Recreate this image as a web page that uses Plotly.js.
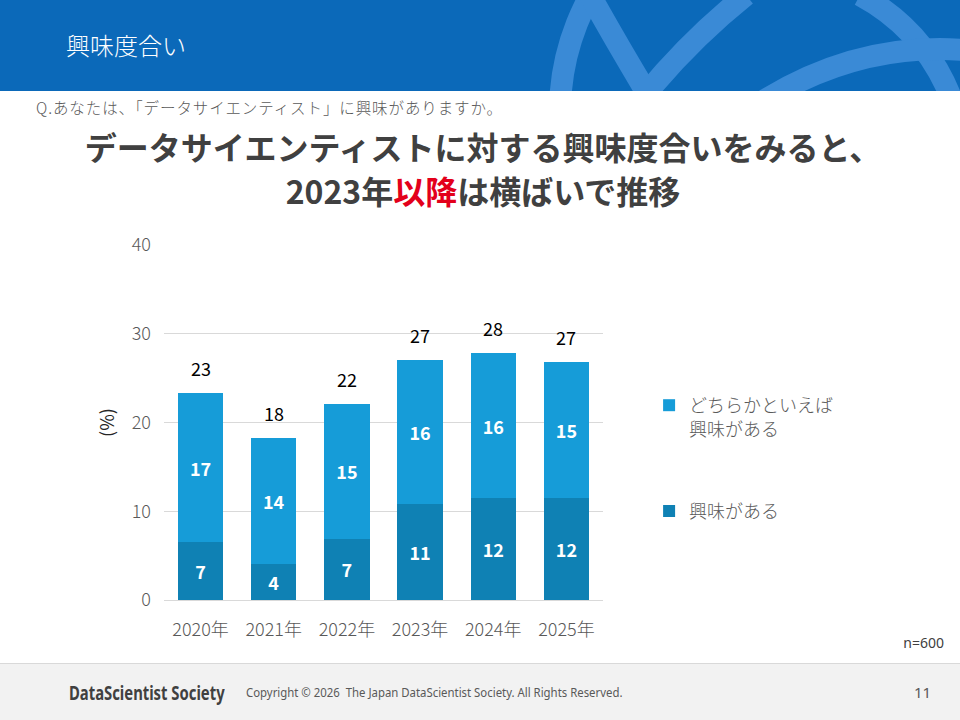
<!DOCTYPE html>
<html>
<head>
<meta charset="utf-8">
<script src="https://cdn.plot.ly/plotly-3.0.1.min.js"></script>
<style>
  html, body { margin:0; padding:0; width:960px; height:720px; overflow:hidden; background:#fff; }
  body { position:relative; font-family:"Noto Sans CJK JP","Noto Sans",sans-serif; }
  #header { position:absolute; left:0; top:0; width:960px; height:91px; background:#0b69b9; overflow:hidden; }
  #header svg { position:absolute; left:0; top:0; }
  #header .ttl { position:absolute; left:66px; top:28px; color:#fff; font-size:24px; line-height:34px; font-weight:300; }
  #question { position:absolute; left:36px; top:96px; font-size:15.5px; letter-spacing:0.9px; color:#595959; line-height:22px; font-weight:300; }
  #headline { position:absolute; left:8px; width:950px; top:124px; text-align:center; font-weight:700; font-size:32px; line-height:44px; color:#404040; }
  #headline .red { color:#e3001b; }
  #chart { position:absolute; left:0; top:0; width:960px; height:720px; }
  #nnote { position:absolute; right:16px; top:633px; font-size:14px; color:#404040; font-family:"Noto Sans","Noto Sans CJK JP",sans-serif; }
  #footer { position:absolute; left:0; top:663px; width:960px; height:57px; background:#f2f2f2; border-top:1px solid #d9d9d9; }
  #footer .logo { position:absolute; left:69px; top:16px; font-family:"Noto Sans","DejaVu Sans",sans-serif; font-weight:700; font-size:19px; color:#404040; transform:scaleX(0.78); transform-origin:left center; white-space:nowrap; }
  #footer .copy { position:absolute; left:246px; top:20px; font-family:"Noto Sans","DejaVu Sans",sans-serif; font-size:12.5px; color:#595959; transform:scaleX(0.91); transform-origin:left center; white-space:nowrap; }
  #footer .page { position:absolute; left:914px; top:18px; font-family:"Noto Sans",sans-serif; font-size:15px; color:#595959; }
</style>
</head>
<body>
<div id="header">
  <svg width="960" height="91" viewBox="0 0 960 91">
    <g fill="none" stroke="#3a8ad6" stroke-width="22" stroke-linecap="butt">
      <circle cx="800" cy="112" r="240"/>
      <path d="M 590 -5 Q 615 40 648 95"/>
      <path d="M 746 -5 Q 690 40 645 95"/>
      <path d="M 860 -5 Q 925 30 952 100"/>
      <path d="M 765 100 Q 860 42 965 50"/>
    </g>
  </svg>
  <div class="ttl">興味度合い</div>
</div>
<div id="question">Q.あなたは、「データサイエンティスト」に興味がありますか。</div>
<div id="headline">データサイエンティストに対する興味度合いをみると、<br>2023年<span class="red">以降</span>は横ばいで推移</div>
<div id="chart"></div>
<div id="nnote">n=600</div>
<div id="footer">
  <div class="logo">DataScientist Society</div>
  <div class="copy">Copyright © 2026&nbsp; The Japan DataScientist Society. All Rights Reserved.</div>
  <div class="page">11</div>
</div>
<script>
// ---- data ----
const years = ['2020年', '2021年', '2022年', '2023年', '2024年', '2025年'];
const interested = [6.5, 4.1, 6.9, 10.8, 11.5, 11.5];        // 興味がある
const somewhat = [16.8, 14.1, 15.2, 16.2, 16.3, 15.3];        // どちらかといえば興味がある
const interestedLabels = ['7', '4', '7', '11', '12', '12'];
const somewhatLabels = ['17', '14', '15', '16', '16', '15'];
const totalLabels = ['23', '18', '22', '27', '28', '27'];
const seriesNames = ['興味がある', 'どちらかといえば<br>興味がある'];
const yTicks = [0, 10, 20, 30, 40];

const totals = interested.map((v, i) => v + somewhat[i]);
const FONT = '"Noto Sans CJK JP", "Noto Sans", sans-serif';

const traces = [
  {
    type: 'bar', x: years, y: interested, name: seriesNames[0],
    marker: { color: '#0f81b4', line: { width: 0 } },
    text: interestedLabels, textposition: 'inside', insidetextanchor: 'middle',
    textangle: 0, constraintext: 'none',
    textfont: { color: '#ffffff', size: 18, family: FONT, weight: 700 },
    legendgroup: 'g2', legendrank: 2, hoverinfo: 'none'
  },
  {
    type: 'bar', x: years, y: somewhat, name: seriesNames[1],
    marker: { color: '#169cd8', line: { width: 0 } },
    text: somewhatLabels, textposition: 'inside', insidetextanchor: 'middle',
    textangle: 0, constraintext: 'none',
    textfont: { color: '#ffffff', size: 18, family: FONT, weight: 700 },
    legendgroup: 'g1', legendrank: 1, hoverinfo: 'none'
  }
];

const annotations = years.map((yr, i) => ({
  x: yr, y: totals[i], xref: 'x', yref: 'y', text: totalLabels[i],
  showarrow: false, yshift: 25,
  font: { family: FONT, size: 18, color: '#000000' }
}));

const layout = {
  width: 960, height: 720,
  paper_bgcolor: 'rgba(0,0,0,0)', plot_bgcolor: 'rgba(0,0,0,0)',
  margin: { l: 164, r: 357, t: 245, b: 120, pad: 0 },
  barmode: 'stack', bargap: 0.38,
  font: { family: FONT, color: '#595959' },
  xaxis: {
    type: 'category', showgrid: false, zeroline: false, showline: false,
    ticks: '', ticklabelstandoff: 17,
    tickfont: { family: FONT, size: 18, color: '#595959', weight: 300 }
  },
  yaxis: {
    range: [0, 40], tickvals: yTicks, showgrid: true, gridcolor: '#d9d9d9', gridwidth: 1,
    zeroline: true, zerolinecolor: '#d9d9d9', zerolinewidth: 1, showline: false,
    ticks: '', ticklabelstandoff: 12,
    tickfont: { family: FONT, size: 18, color: '#595959', weight: 300 },
    title: { text: '(%)', standoff: 12, font: { family: FONT, size: 18, color: '#262626' } }
  },
  showlegend: true,
  legend: {
    x: 1.105, xanchor: 'left', y: 0.60, yanchor: 'top',
    traceorder: 'grouped', tracegroupgap: 56, valign: 'top',
    font: { family: FONT, size: 18, color: '#595959', weight: 300 },
    itemwidth: 30, bgcolor: 'rgba(0,0,0,0)'
  },
  annotations: annotations
};

Plotly.newPlot('chart', traces, layout, { displayModeBar: false, staticPlot: true });
</script>
</body>
</html>
